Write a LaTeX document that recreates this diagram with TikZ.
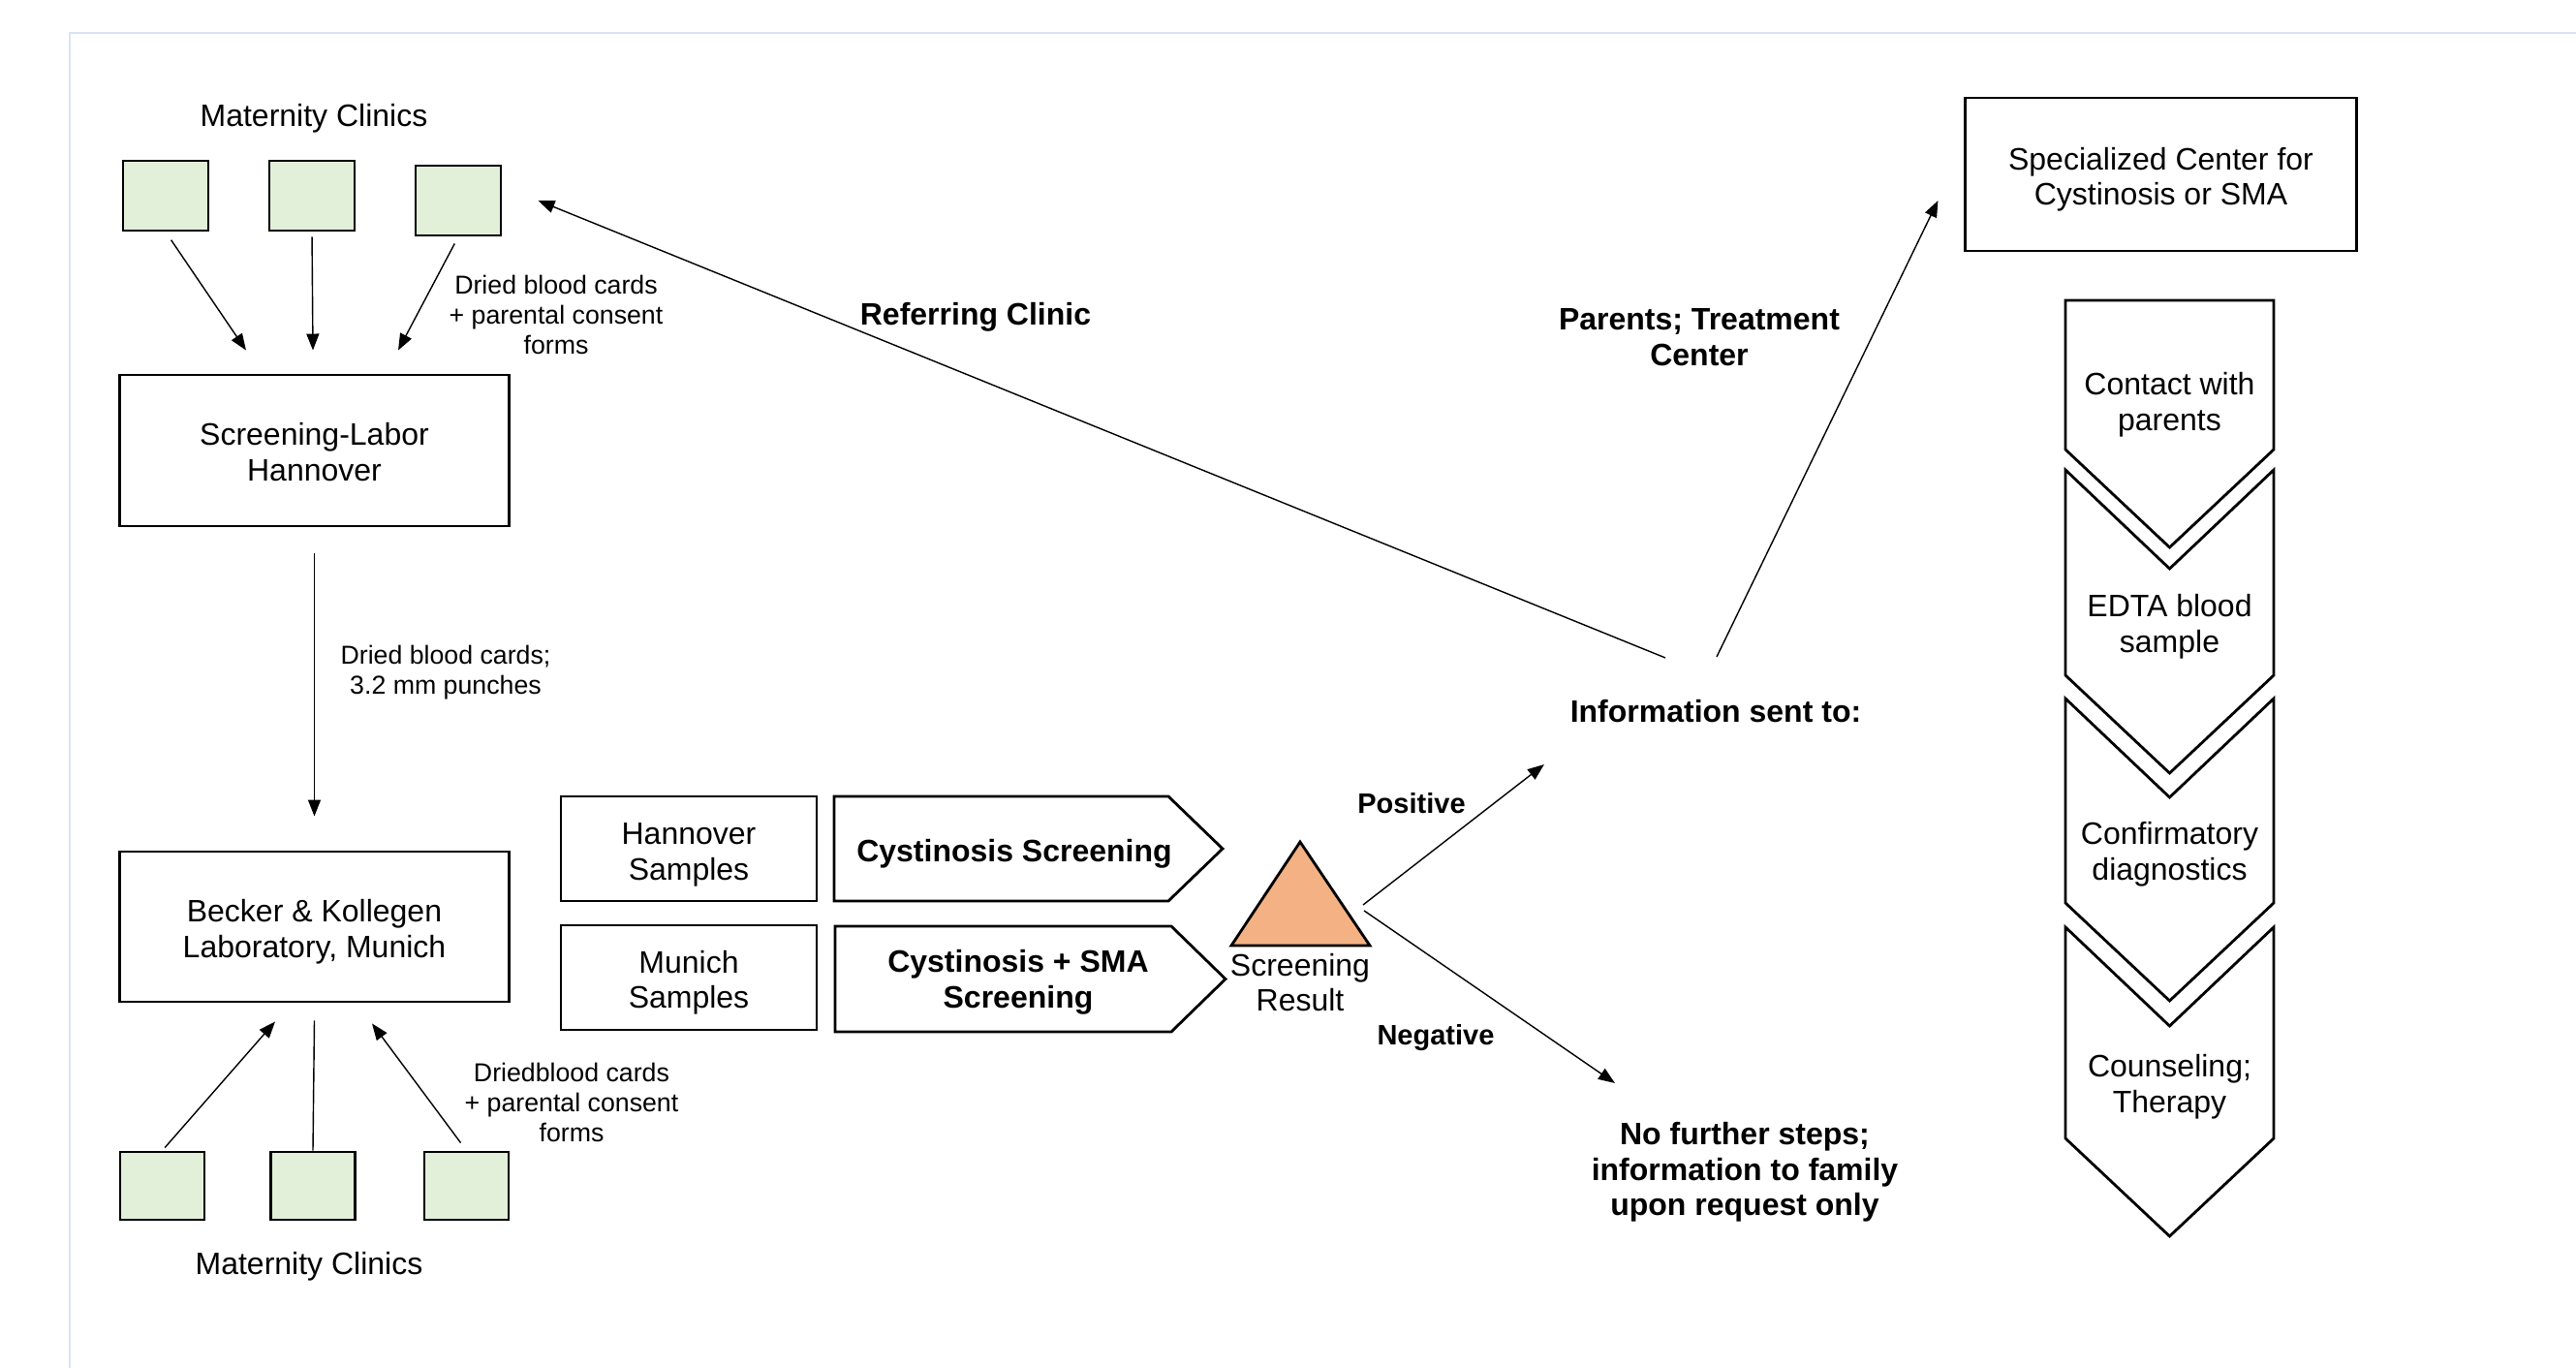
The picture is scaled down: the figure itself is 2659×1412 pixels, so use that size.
\documentclass[tikz,border=0pt]{standalone}
\usepackage{fontspec}
\setmainfont{Liberation Sans}
\usetikzlibrary{arrows.meta}
\definecolor{clinicgreen}{HTML}{E2EFD9}
\definecolor{resultorange}{HTML}{F4B183}
\definecolor{framegrey}{HTML}{DAE3F3}
\newcommand{\boxstrut}{\rule{0pt}{9.5pt}}

\begin{document}
\begin{tikzpicture}[x=0.01cm, y=-0.01cm]
\tikzset{
   >={Triangle[length=1.7mm, width=1.3mm]},
   every node/.style = {font=\fontsize{9.1}{10.4}\selectfont, align=center, inner sep=0pt},
   lab/.style = {rectangle, draw, line width=0.8pt, minimum width=4.01cm, minimum height=1.56cm},
   samplebox/.style = {rectangle, draw, line width=0.8pt, minimum width=2.64cm, minimum height=1.08cm},
   clinic/.style = {rectangle, draw, line width=0.8pt, fill=clinicgreen, minimum width=0.88cm, minimum height=0.72cm},
   note/.style = {font=\fontsize{7.6}{8.8}\selectfont},
   boldtext/.style = {font=\fontsize{9.1}{10.4}\selectfont\bfseries},
   verdict/.style = {font=\fontsize{8.25}{9.5}\selectfont\bfseries},
   flow/.style = {->, line width=0.4pt},
   outline/.style = {draw, line width=0.8pt, line join=miter}
}
\useasboundingbox (0,0) rectangle (2659,1412);
\draw [framegrey, line width=0.6pt] (72,1412) -- (72,34) -- (2659,34);

% Hannover side
  \node (mcTop) at (324,122) {Maternity Clinics};
  \node [clinic] (c1) at (171,202) {};
  \node [clinic] (c2) at (322,202) {};
  \node [clinic] (c3) at (473,207) {};
  \node [lab] (hann) at (324.5,465) {\rule{0pt}{7.6pt}Screening-Labor\\Hannover};
  \coordinate (t1) at ([xshift=-0.705cm, yshift=0.24cm]hann.north);
  \coordinate (t2) at ([xshift=-0.015cm, yshift=0.24cm]hann.north);
  \coordinate (t3) at ([xshift=0.865cm, yshift=0.24cm]hann.north);
  \draw [flow, shorten <=0.1cm] (c1.south) -- (t1);
  \draw [flow, shorten <=0.05cm] (c2.south) -- (t2);
  \draw [flow, shorten <=0.08cm] (c3.south) -- (t3);
  \node [note] (cardsTop) at (574,325) {Dried blood cards\\+ parental consent\\forms};

  \node [lab, minimum height=1.55cm] (beck) at (324.5,956.5) {\boxstrut Becker \& Kollegen\\Laboratory, Munich};
  \draw [flow, shorten <=0.27cm, shorten >=0.35cm] (hann) -- (beck);
  \node [note] (punch) at (460,694) {Dried blood cards;\\3.2 mm punches};

% Munich side
  \node [clinic, minimum width=0.87cm, minimum height=0.7cm] (m1) at (167.5,1224) {};
  \node [clinic, minimum width=0.87cm, minimum height=0.7cm] (m2) at (323,1224) {};
  \node [clinic, minimum width=0.87cm, minimum height=0.7cm] (m3) at (481.5,1224) {};
  \node (mcBot) at (319,1307) {Maternity Clinics};
  \coordinate (u1) at ([xshift=-0.405cm, yshift=-0.19cm]beck.south);
  \coordinate (u2) at ([yshift=-0.18cm]beck.south);
  \coordinate (u3) at ([xshift=0.595cm, yshift=-0.21cm]beck.south);
  \draw [flow, shorten <=0.04cm] (m1.north) -- (u1);
  \draw [line width=0.4pt] (m2.north) -- (u2);
  \draw [flow, shorten <=0.1cm] (m3.north) -- (u3);
  \node [note] (cardsBot) at (590,1138) {Driedblood cards\\+ parental consent\\forms};

% screening
  \node [samplebox] (hs) at (711,876) {\rule{0pt}{10pt}Hannover\\Samples};
  \node [samplebox] (ms) at (711,1009) {\boxstrut Munich\\Samples};
  \draw [outline] (861,822) -- (1206,822) -- (1262,876) -- (1206,930) -- (861,930) -- cycle;
  \node [boldtext] (cs) at (1047,881) {Cystinosis Screening};
  \draw [outline] (862,956) -- (1209,956) -- (1265,1010.5) -- (1209,1065) -- (862,1065) -- cycle;
  \node [boldtext] (csma) at (1051,1014) {Cystinosis + SMA\\Screening};

  \draw [outline, fill=resultorange] (1271,976) -- (1342,869) -- (1414,976) -- cycle;
  \node (res) at (1342,1014) {Screening\\Result};

% result
  \node [boldtext] (info) at (1771,734) {Information sent to:};
  \node [boldtext] (nfs) at (1801,1210) {No further steps;\\information to family\\upon request only};
  \coordinate (posFrom) at ([xshift=0.65cm, yshift=0.8cm]res.center);
  \coordinate (negFrom) at ([xshift=0.66cm, yshift=0.74cm]res.center);
  \coordinate (posTip) at ([xshift=-1.77cm, yshift=-0.55cm]info.center);
  \coordinate (negTip) at ([xshift=-1.34cm, yshift=0.92cm]nfs.center);
  \draw [flow] (posFrom) -- (posTip);
  \draw [flow] (negFrom) -- (negTip);
  \node [verdict] (pos) at (1457,829) {Positive};
  \node [verdict] (neg) at (1482,1071) {Negative};

  \node [lab, minimum width=4.03cm, minimum height=1.58cm] (spec) at (2230.5,180) {\boxstrut Specialized Center for\\Cystinosis or SMA};
  \coordinate (infoL) at ([xshift=-0.52cm, yshift=0.55cm]info.center);
  \coordinate (infoR) at ([xshift=0.01cm, yshift=0.56cm]info.center);
  \coordinate (refTip) at ([xshift=0.37cm]c3.east);
  \coordinate (specTip) at ([xshift=-0.27cm, yshift=-0.27cm]spec.west);
  \draw [flow] (infoL) -- (refTip);
  \draw [flow] (infoR) -- (specTip);
  \node [boldtext] (refLbl) at (1007,327) {Referring Clinic};
  \node [boldtext] (parLbl) at (1754,348) {Parents; Treatment\\Center};

% follow-up steps
  \foreach \idx/\yt/\yn/\yb/\ym/\lbl in {1/310/310/464/418/{Contact with\\parents},
        2/485/587/697/647/{EDTA blood\\sample},
        3/721/823/932/882/{Confirmatory\\diagnostics},
        4/957/1059/1175/1122/{Counseling;\\Therapy}}
  {
    \draw [outline] (2132,\yt) -- (2239.5,\yn) -- (2347,\yt) -- (2347,\yb) -- (2239.5,\yb+101) -- (2132,\yb) -- cycle;
    \node (stage\idx) at (2239.5,\ym) {\lbl};
  }

\end{tikzpicture}
\end{document}
